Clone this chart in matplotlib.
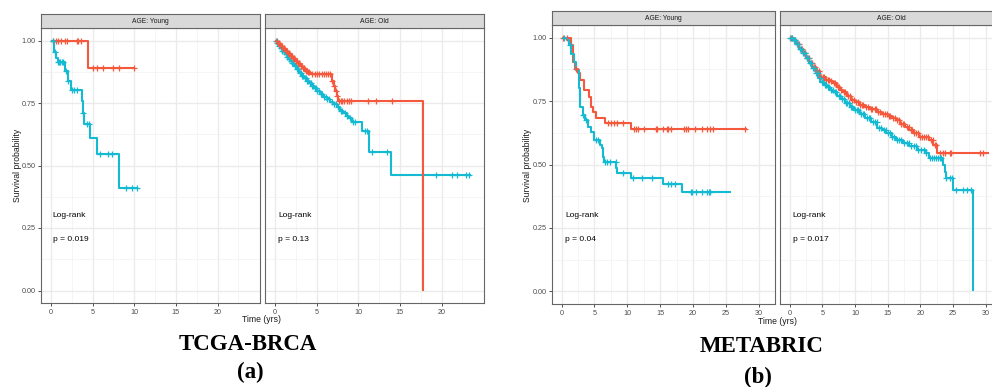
import matplotlib
matplotlib.use("Agg")
import matplotlib.pyplot as plt
import numpy as np

RED = "#F5593D"
CYAN = "#14B9D2"

# ---- panel (a) TCGA-BRCA, AGE: Young ----
a_young_red_t = [0, 4.48]
a_young_red_s = [1.0, 0.889]
a_young_red_cens = [0.3, 0.6, 0.9, 1.2, 1.7, 1.9, 3.1, 3.3, 3.6, 5.1, 5.5, 6.2, 7.4, 8.2, 10.0]
a_young_red_end = 10.1

a_young_cyan_t = [0, 0.4, 0.6, 0.8, 1.68, 2.0, 2.36, 3.76, 3.88, 4.0, 4.68, 5.56, 8.16]
a_young_cyan_s = [1.0, 0.953, 0.93, 0.913, 0.877, 0.84, 0.803, 0.757, 0.71, 0.665, 0.609, 0.547, 0.411]
a_young_cyan_cens = [0.2, 0.5, 0.9, 1.0, 1.1, 1.3, 1.5, 1.8, 2.1, 2.5, 2.8, 3.1,
                     3.9, 4.3, 4.6, 5.9, 6.8, 7.3, 8.96, 9.68, 10.28]
a_young_cyan_end = 10.3

# ---- panel (a) TCGA-BRCA, AGE: Old ----
a_old_red_t = [0, 0.3, 0.6, 0.9, 1.2, 1.5, 1.8, 2.1, 2.4, 2.7, 3.0, 3.3, 3.6, 3.9, 4.2,
               6.85, 7.05, 7.25, 7.45, 7.6, 17.8]
a_old_red_s = [1.0, 0.99, 0.98, 0.97, 0.96, 0.95, 0.94, 0.93, 0.92, 0.91, 0.90, 0.89,
               0.88, 0.875, 0.867, 0.84, 0.82, 0.80, 0.78, 0.76, 0.0]
a_old_red_cens = [0.2, 0.4, 0.5, 0.7, 0.8, 1.0, 1.1, 1.3, 1.4, 1.6, 1.7, 1.9, 2.0, 2.2,
                  2.3, 2.5, 2.6, 2.8, 2.9, 3.1, 3.2, 3.4, 3.5, 3.7, 3.8, 4.0, 4.1, 4.5,
                  4.8, 5.0, 5.3, 5.6, 5.9, 6.1, 6.4, 6.6, 6.9, 7.1, 7.3, 7.5, 7.7, 7.9,
                  8.1, 8.3, 8.6, 8.9, 9.1, 11.2, 12.1, 14.1]
a_old_red_end = 17.8

a_old_cyan_t = [0, 0.2, 0.4, 0.6, 0.8, 1.0, 1.2, 1.4, 1.6, 1.8, 2.0, 2.3, 2.6, 2.9, 3.2,
                3.5, 3.8, 4.1, 4.4, 4.7, 5.0, 5.4, 5.8, 6.2, 6.6, 7.0, 7.45, 7.8, 8.2,
                8.6, 8.9, 9.26, 10.5, 11.3, 13.97]
a_old_cyan_s = [1.0, 0.99, 0.98, 0.97, 0.96, 0.955, 0.945, 0.935, 0.925, 0.92, 0.91, 0.90,
                0.885, 0.87, 0.86, 0.85, 0.84, 0.83, 0.82, 0.81, 0.80, 0.787, 0.775,
                0.765, 0.755, 0.745, 0.733, 0.72, 0.71, 0.70, 0.69, 0.673, 0.64, 0.553,
                0.464]
a_old_cyan_cens = [0.1, 0.3, 0.5, 0.7, 0.9, 1.1, 1.3, 1.5, 1.7, 1.9, 2.1, 2.2, 2.4, 2.5,
                   2.7, 2.8, 3.0, 3.1, 3.3, 3.4, 3.6, 3.7, 3.9, 4.0, 4.2, 4.3, 4.5, 4.6,
                   4.8, 4.9, 5.1, 5.3, 5.5, 5.7, 5.9, 6.1, 6.3, 6.5, 6.8, 7.1, 7.3, 7.6,
                   7.9, 8.1, 8.4, 8.7, 9.0, 9.4, 9.6, 10.8, 11.0, 11.6, 13.5, 19.3, 21.3,
                   21.9, 22.9, 23.3]
a_old_cyan_end = 23.55

# ---- panel (b) METABRIC, AGE: Young ----
b_young_red_t = [0, 1.4, 1.7, 2.06, 2.45, 2.85, 3.34, 4.17, 4.42, 4.81, 5.3, 6.6, 10.56]
b_young_red_s = [1.0, 0.97, 0.904, 0.878, 0.859, 0.832, 0.793, 0.767, 0.728, 0.708,
                 0.682, 0.662, 0.639]
b_young_red_cens = [0.24, 0.8, 2.2, 7.1, 7.5, 7.9, 8.4, 9.3, 11.06, 11.3, 11.7, 12.5, 14.3,
                    14.5, 15.5, 16.0, 16.2, 16.6, 18.7, 18.9, 19.2, 20.3, 21.4, 22.1,
                    22.6, 23.1, 28.0]
b_young_red_end = 28.3

b_young_cyan_t = [0, 0.74, 1.08, 1.47, 1.86, 2.2, 2.6, 2.7, 2.85, 3.2, 3.6, 4.0, 4.4,
                  4.9, 5.9, 6.1, 6.3, 6.4, 8.35, 8.5, 10.56, 15.5, 18.4]
b_young_cyan_s = [1.0, 0.989, 0.97, 0.937, 0.904, 0.872, 0.845, 0.80, 0.728, 0.695, 0.675,
                  0.649, 0.629, 0.597, 0.577, 0.564, 0.531, 0.508, 0.486, 0.466, 0.446,
                  0.424, 0.39]
b_young_cyan_cens = [0.3, 1.2, 3.3, 3.7, 5.3, 5.6, 6.6, 6.9, 7.4, 8.3, 9.3, 10.8, 12.3,
                     13.8, 16.2, 16.6, 17.2, 19.7, 19.9, 20.4, 21.4, 22.1, 22.4, 22.6]
b_young_cyan_end = 25.8

# ---- panel (b) METABRIC, AGE: Old ----
b_old_red_t = [0, 0.5, 1.0, 1.5, 2.0, 2.5, 3.0, 3.5, 4.0, 4.7, 5.5, 6.2, 6.7, 7.2, 7.7,
               8.2, 8.8, 9.4, 10.0, 10.7, 11.5, 12.3, 13.4, 14.2, 15.0, 15.6, 16.3, 16.9,
               17.6, 18.3, 19.0, 19.8, 21.3, 22.0, 22.5]
b_old_red_s = [1.0, 0.99, 0.975, 0.955, 0.94, 0.92, 0.90, 0.885, 0.87, 0.845, 0.835, 0.83,
               0.82, 0.805, 0.795, 0.785, 0.77, 0.755, 0.745, 0.734, 0.725, 0.717, 0.708,
               0.70, 0.69, 0.682, 0.675, 0.66, 0.648, 0.636, 0.625, 0.61, 0.597, 0.577,
               0.545]
b_old_red_cens = [0.2, 0.4, 0.7, 0.9, 1.2, 1.4, 1.7, 1.9, 2.2, 2.4, 2.7, 2.9, 3.2, 3.4,
                  3.7, 3.9, 4.2, 4.5, 4.8, 5.1, 5.3, 5.6, 5.9, 6.1, 6.4, 6.8, 7.0, 7.4,
                  7.6, 7.9, 8.3, 8.5, 8.9, 9.2, 9.5, 9.8, 10.1, 10.4, 10.8, 11.1, 11.3,
                  11.7, 12.0, 12.4, 12.6, 13.0, 13.2, 13.6, 13.9, 14.3, 14.6, 14.9, 15.2,
                  15.4, 15.8, 16.1, 16.4, 16.7, 17.0, 17.3, 17.5, 17.9, 18.2, 18.5, 18.8,
                  19.1, 19.4, 19.7, 20.0, 20.3, 20.6, 20.9, 21.2, 21.6, 21.9, 22.2, 22.4,
                  23.0, 23.5, 23.8, 24.5, 24.7, 29.2, 29.6]
b_old_red_end = 30.5

b_old_cyan_t = [0, 0.5, 1.0, 1.5, 2.0, 2.5, 3.0, 3.5, 4.0, 4.4, 4.7, 5.2, 5.7, 6.2, 6.7,
                7.3, 7.9, 8.5, 9.2, 9.9, 10.7, 11.6, 12.4, 13.4, 14.1, 14.8, 15.6, 16.3,
                17.3, 18.3, 19.5, 20.8, 21.3, 23.5, 23.8, 23.9, 25.0, 28.1]
b_old_cyan_s = [1.0, 0.99, 0.975, 0.955, 0.94, 0.92, 0.90, 0.88, 0.86, 0.84, 0.826, 0.815,
                0.805, 0.795, 0.786, 0.772, 0.758, 0.743, 0.728, 0.715, 0.70, 0.682, 0.667,
                0.643, 0.636, 0.624, 0.61, 0.597, 0.584, 0.571, 0.558, 0.545, 0.525, 0.499,
                0.472, 0.446, 0.40, 0.0]
b_old_cyan_cens = [0.1, 0.3, 0.6, 0.8, 1.1, 1.3, 1.6, 1.8, 2.1, 2.3, 2.6, 2.8, 3.1, 3.3,
                   3.6, 3.8, 4.1, 4.3, 4.6, 4.9, 5.1, 5.4, 5.6, 5.9, 6.1, 6.4, 6.6, 6.9,
                   7.1, 7.5, 7.7, 8.0, 8.3, 8.6, 8.8, 9.1, 9.4, 9.6, 10.0, 10.3, 10.5,
                   10.9, 11.2, 11.4, 11.8, 12.1, 12.3, 12.7, 13.0, 13.3, 13.7, 14.0, 14.4,
                   14.7, 15.0, 15.3, 15.7, 16.0, 16.4, 16.8, 17.1, 17.5, 17.9, 18.2, 18.6,
                   19.0, 19.3, 19.7, 20.1, 20.5, 20.9, 21.5, 21.8, 22.1, 22.4, 22.7, 23.0,
                   23.2, 24.0, 24.5, 24.9, 25.5, 26.5, 27.2, 27.7]
b_old_cyan_end = 28.1

FACET_LABELS = ["AGE: Young", "AGE: Old"]
A_PVALUES = ["p = 0.019", "p = 0.13"]
B_PVALUES = ["p = 0.04", "p = 0.017"]
A_XTICKS = [0, 5, 10, 15, 20]
B_XTICKS = [0, 5, 10, 15, 20, 25, 30]
YTICKS = [0.0, 0.25, 0.5, 0.75, 1.0]
YTICK_LABELS = ["0.00", "0.25", "0.50", "0.75", "1.00"]

W, H = 992, 387
SANS = ["Liberation Sans", "DejaVu Sans"]


def px_rect(x0, y0, x1, y1):
    # pixel box (top-left origin) -> figure fraction rect
    return [x0 / W, 1 - y1 / H, (x1 - x0) / W, (y1 - y0) / H]


def km_curve(ax, t, s, cens, end, color):
    t = np.asarray(t)
    s = np.asarray(s)
    xs = np.append(t, end)
    ys = np.append(s, s[-1])
    ax.step(xs, ys, where="post", color=color, lw=1.5, zorder=3, solid_capstyle="butt")
    cens = np.asarray(cens)
    idx = np.searchsorted(t, cens, side="right") - 1
    ax.plot(cens, s[idx], ls="none", marker="+", color=color, ms=4.6, mew=0.9, zorder=4)


def facet(fig, box, strip_h, label, xlim, xticks, curves, ptext, show_y, text_x):
    ax = fig.add_axes(px_rect(*box))
    ax.set_facecolor("white")
    for c in curves:
        km_curve(ax, *c)
    ax.set_xlim(*xlim)
    ax.set_ylim(-0.05, 1.05)
    ax.set_xticks(xticks)
    ax.set_xticks([v + 2.5 for v in xticks], minor=True)
    ax.set_yticks(YTICKS)
    ax.set_yticks([0.125, 0.375, 0.625, 0.875], minor=True)
    ax.grid(which="major", color="#EBEBEB", lw=1.0, zorder=0)
    ax.grid(which="minor", color="#F2F2F2", lw=0.5, zorder=0)
    ax.set_axisbelow(True)
    ax.tick_params(axis="both", which="major", length=2, width=0.6, color="#333333",
                   labelsize=5.2, labelcolor="#4D4D4D", pad=2)
    ax.tick_params(which="minor", length=0)
    ax.set_xticklabels([str(v) for v in xticks], family=SANS)
    if show_y:
        ax.set_yticklabels(YTICK_LABELS, family=SANS)
    else:
        ax.tick_params(axis="y", left=False, labelleft=False)
    for sp in ax.spines.values():
        sp.set_color("#666666")
        sp.set_linewidth(0.8)
    ax.text(text_x, 0.30, "Log-rank", fontsize=6, family=SANS, va="center", ha="left")
    ax.text(text_x, 0.205, ptext, fontsize=6, family=SANS, va="center", ha="left")

    # strip on top
    x0, y0, x1, y1 = box
    sax = fig.add_axes(px_rect(x0, y0 - strip_h, x1, y0))
    sax.set_facecolor("#D9D9D9")
    sax.set_xticks([])
    sax.set_yticks([])
    for sp in sax.spines.values():
        sp.set_color("#666666")
        sp.set_linewidth(0.8)
    sax.text(0.5, 0.45, label, transform=sax.transAxes, ha="center", va="center",
             fontsize=4.9, family=SANS, color="#1A1A1A")
    return ax


fig = plt.figure(figsize=(W / 100, H / 100), dpi=100)

# ---- (a) TCGA-BRCA ----
a_xlim = (-1.2, 25.1)
facet(fig, (41, 28, 260, 303), 14, FACET_LABELS[0], a_xlim, A_XTICKS,
      [(a_young_red_t, a_young_red_s, a_young_red_cens, a_young_red_end, RED),
       (a_young_cyan_t, a_young_cyan_s, a_young_cyan_cens, a_young_cyan_end, CYAN)],
      A_PVALUES[0], True, 0.2)
facet(fig, (265, 28, 484, 303), 14, FACET_LABELS[1], a_xlim, A_XTICKS,
      [(a_old_cyan_t, a_old_cyan_s, a_old_cyan_cens, a_old_cyan_end, CYAN),
       (a_old_red_t, a_old_red_s, a_old_red_cens, a_old_red_end, RED)],
      A_PVALUES[1], False, 0.35)

# ---- (b) METABRIC ----
b_xlim = (-1.47, 31.46)
facet(fig, (552, 25, 775, 304), 14, FACET_LABELS[0], b_xlim, B_XTICKS,
      [(b_young_red_t, b_young_red_s, b_young_red_cens, b_young_red_end, RED),
       (b_young_cyan_t, b_young_cyan_s, b_young_cyan_cens, b_young_cyan_end, CYAN)],
      B_PVALUES[0], True, 0.5)
facet(fig, (780, 25, 1002, 304), 14, FACET_LABELS[1], b_xlim, B_XTICKS,
      [(b_old_red_t, b_old_red_s, b_old_red_cens, b_old_red_end, RED),
       (b_old_cyan_t, b_old_cyan_s, b_old_cyan_cens, b_old_cyan_end, CYAN)],
      B_PVALUES[1], False, 0.5)

# axis titles
fig.text(262 / W, 1 - 320 / H, "Time (yrs)", ha="center", va="center", fontsize=6.2,
         family=SANS, color="#1A1A1A")
fig.text(18 / W, 1 - 165 / H, "Survival probability", ha="center", va="center",
         rotation=90, fontsize=6.2, family=SANS, color="#1A1A1A")
fig.text(777 / W, 1 - 322 / H, "Time (yrs)", ha="center", va="center", fontsize=6.2,
         family=SANS, color="#1A1A1A")
fig.text(528 / W, 1 - 165 / H, "Survival probability", ha="center", va="center",
         rotation=90, fontsize=6.2, family=SANS, color="#1A1A1A")

# captions
SERIF = ["Liberation Serif", "DejaVu Serif"]
fig.text(248 / W, 1 - 344 / H, "TCGA-BRCA", ha="center", va="center", fontsize=16.5,
         fontweight="bold", family=SERIF)
fig.text(250 / W, 1 - 372 / H, "(a)", ha="center", va="center", fontsize=16.5,
         fontweight="bold", family=SERIF)
fig.text(762 / W, 1 - 347 / H, "METABRIC", ha="center", va="center", fontsize=16.5,
         fontweight="bold", family=SERIF)
fig.text(758 / W, 1 - 377 / H, "(b)", ha="center", va="center", fontsize=16.5,
         fontweight="bold", family=SERIF)

fig.savefig("out.png", dpi=100, facecolor="white")
